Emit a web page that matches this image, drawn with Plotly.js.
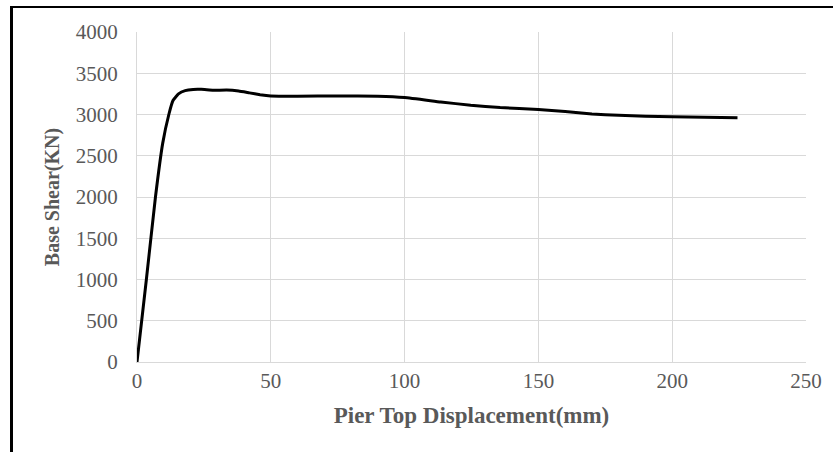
<!DOCTYPE html>
<html>
<head>
<meta charset="utf-8">
<script src="https://cdn.plot.ly/plotly-3.0.1.min.js"></script>
<style>
  html, body { margin: 0; padding: 0; background: #fff; }
  #wrap { position: relative; width: 833px; height: 452px; }
  #chart { width: 833px; height: 452px; }
  #frame { position: absolute; left: 10px; top: 6px; right: -10px; bottom: -10px;
           border-left: 3px solid #000; border-top: 2px solid #000; pointer-events: none; }
</style>
</head>
<body>
<div id="wrap"><div id="chart"></div><div id="frame"></div></div>
<script>
// Pier top displacement (mm)
const displacement = [0, 3.5, 6.9, 9.6, 11.9, 13.5, 15.5, 18, 21, 24, 28.5, 33.5, 38, 42, 46, 50, 60, 75, 90, 100, 113.5, 124.7, 135.7, 150, 160, 170, 180, 190, 200, 212, 224.4];
// Base shear (KN)
const baseShear = [0, 1000, 2000, 2650, 3000, 3172, 3250, 3290, 3304, 3305, 3294, 3297, 3284, 3262, 3240, 3225, 3222, 3224, 3221, 3205, 3152, 3112, 3084, 3060, 3035, 3005, 2990, 2979, 2972, 2966, 2962];

const xTicks = [0, 50, 100, 150, 200, 250];
const yTicks = [0, 500, 1000, 1500, 2000, 2500, 3000, 3500, 4000];

const tickFont = { family: 'Liberation Serif, Times New Roman, serif', size: 21, color: '#595959' };
const xTitleFont = { family: 'Liberation Serif, Times New Roman, serif', size: 23, color: '#595959', weight: 'bold' };
const yTitleFont = { family: 'Liberation Serif, Times New Roman, serif', size: 20, color: '#595959', weight: 'bold' };

Plotly.newPlot('chart', [{
  x: displacement,
  y: baseShear,
  type: 'scatter',
  mode: 'lines',
  line: { color: '#000000', width: 3, shape: 'spline', smoothing: 0.35 },
  hoverinfo: 'skip'
}], {
  width: 833,
  height: 452,
  margin: { l: 137, r: 27, t: 32, b: 90 },
  paper_bgcolor: '#ffffff',
  plot_bgcolor: '#ffffff',
  showlegend: false,
  xaxis: {
    range: [0, 250],
    tickvals: xTicks,
    ticktext: xTicks.map(String),
    showgrid: true,
    gridcolor: '#d9d9d9',
    gridwidth: 1,
    zeroline: false,
    showline: true,
    linecolor: '#d9d9d9',
    linewidth: 1,
    ticks: '',
    ticklen: 0,
    tickfont: tickFont,
    title: { text: '<b>Pier Top Displacement(mm)</b>', font: xTitleFont, standoff: 14 }
  },
  yaxis: {
    range: [0, 4000],
    tickvals: yTicks,
    ticktext: yTicks.map(String),
    showgrid: true,
    gridcolor: '#d9d9d9',
    gridwidth: 1,
    zeroline: false,
    showline: true,
    linecolor: '#d9d9d9',
    linewidth: 1,
    ticks: '',
    ticklen: 0,
    ticklabelstandoff: 14,
    tickfont: tickFont,
    title: { text: '<b>Base Shear(KN)</b>', font: yTitleFont, standoff: 10 }
  }
}, { displayModeBar: false, staticPlot: true });
</script>
</body>
</html>
